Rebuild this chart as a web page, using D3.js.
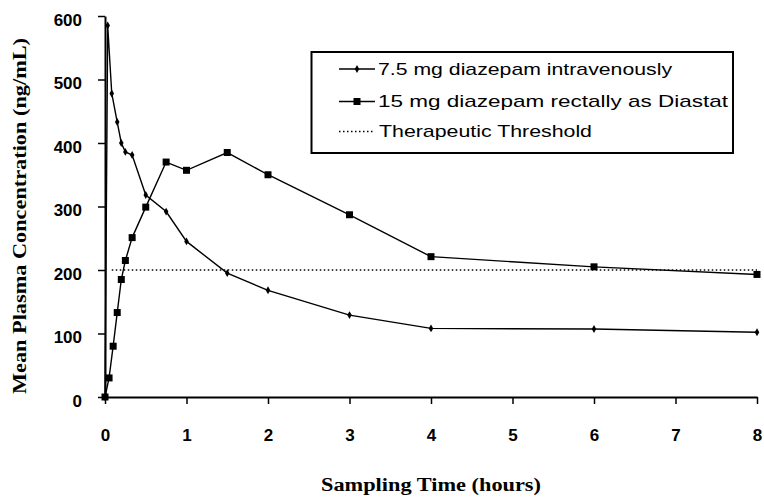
<!DOCTYPE html>
<html><head><meta charset="utf-8">
<script src="https://cdn.jsdelivr.net/npm/d3@7/dist/d3.min.js"></script>
<style>body{margin:0;background:#fff;} svg{display:block;}</style>
</head><body>
<script>
// ---- data ----
const ivTimes = [0, 0.033, 0.083, 0.15, 0.2, 0.25, 0.333, 0.5, 0.75, 1, 1.5, 2, 3, 4, 6, 8];
const ivValues = [0, 585, 478, 433, 400, 386, 381, 318, 292, 245, 195, 168, 129, 108, 107, 102];
const rectalTimes = [0, 0.05, 0.1, 0.15, 0.2, 0.25, 0.333, 0.5, 0.75, 1, 1.5, 2, 3, 4, 6, 8];
const rectalValues = [0, 30, 80, 133, 185, 215, 251, 299, 370, 357, 385, 350, 287, 221, 205, 193];
const thresholdTimes = [0.083, 8];
const thresholdValue = 200;
const xTicks = [0, 1, 2, 3, 4, 5, 6, 7, 8];
const yTicks = [0, 100, 200, 300, 400, 500, 600];
const seriesNames = ["7.5 mg diazepam intravenously", "15 mg diazepam rectally as Diastat", "Therapeutic Threshold"];
const xTitle = "Sampling Time (hours)";
const yTitle = "Mean Plasma Concentration (ng/mL)";

// ---- chart ----
const W = 764, H = 497;
const svg = d3.select("body").append("svg").attr("width", W).attr("height", H);
const x = d3.scaleLinear().domain([0, 8]).range([105, 757]);
const y = d3.scaleLinear().domain([0, 600]).range([397, 16]);

const tickFont = "'Liberation Sans', Arial, sans-serif";

// y axis
const gy = svg.append("g").attr("transform", `translate(${x(0)},0)`)
  .call(d3.axisLeft(y).tickValues(yTicks).tickSize(7).tickSizeOuter(0).tickPadding(16).tickFormat(d3.format("d")));
gy.select(".domain").attr("stroke", "#000").attr("stroke-width", 2);
gy.selectAll(".tick line").attr("stroke", "#000").attr("stroke-width", 1.5);
gy.selectAll(".tick text").attr("font-family", tickFont).attr("font-weight", "bold")
  .attr("font-size", 17).attr("fill", "#000").attr("dy", "0.55em");

// x axis
const gx = svg.append("g").attr("transform", `translate(0,${y(0)})`)
  .call(d3.axisBottom(x).tickValues(xTicks).tickSize(7).tickSizeOuter(0).tickPadding(25).tickFormat(d3.format("d")));
gx.select(".domain").attr("stroke", "#000").attr("stroke-width", 2);
gx.selectAll(".tick line").attr("stroke", "#000").attr("stroke-width", 1.5);
gx.selectAll(".tick text").attr("font-family", tickFont).attr("font-weight", "bold")
  .attr("font-size", 17).attr("fill", "#000");

// threshold
svg.append("path")
  .datum(thresholdTimes.map(t => [t, thresholdValue]))
  .attr("d", d3.line().x(d => x(d[0])).y(d => y(d[1])))
  .attr("fill", "none").attr("stroke", "#000").attr("stroke-width", 1.5)
  .attr("stroke-dasharray", "1.5,2.5");

const line = d3.line().x(d => x(d[0])).y(d => y(d[1]));
const ivData = ivTimes.map((t, i) => [t, ivValues[i]]);
const rectalData = rectalTimes.map((t, i) => [t, rectalValues[i]]);

svg.append("path").datum(ivData).attr("d", line)
  .attr("fill", "none").attr("stroke", "#000").attr("stroke-width", 1.4);
svg.append("path").datum(rectalData).attr("d", line)
  .attr("fill", "none").attr("stroke", "#000").attr("stroke-width", 1.4);

const diamond = d3.symbol().type(d3.symbolDiamond).size(18);
const square = d3.symbol().type(d3.symbolSquare).size(49);

svg.append("g").selectAll("path").data(ivData).join("path")
  .attr("transform", d => `translate(${x(d[0])},${y(d[1])})`)
  .attr("d", diamond).attr("fill", "#000");
svg.append("g").selectAll("path").data(rectalData).join("path")
  .attr("transform", d => `translate(${x(d[0])},${y(d[1])})`)
  .attr("d", square).attr("fill", "#000");

// axis titles
svg.append("text").attr("x", 431).attr("y", 491).attr("text-anchor", "middle")
  .attr("font-family", "'Liberation Serif', 'Times New Roman', serif").attr("font-weight", "bold")
  .attr("font-size", 18).attr("textLength", 220).attr("lengthAdjust", "spacingAndGlyphs").text(xTitle);
svg.append("text").attr("transform", "translate(26,216) rotate(-90)").attr("text-anchor", "middle")
  .attr("font-family", "'Liberation Serif', 'Times New Roman', serif").attr("font-weight", "bold")
  .attr("font-size", 18).attr("textLength", 356).attr("lengthAdjust", "spacingAndGlyphs").text(yTitle);

// legend
const lg = svg.append("g");
lg.append("rect").attr("x", 311.5).attr("y", 52).attr("width", 421.5).attr("height", 101)
  .attr("fill", "#fff").attr("stroke", "#000").attr("stroke-width", 2);
const rowsY = [69, 101.5, 131.5];
const textLens = [294, 350, 213];
seriesNames.forEach((name, i) => {
  const ry = rowsY[i];
  const l = lg.append("line").attr("x1", 339).attr("x2", 375).attr("y1", ry).attr("y2", ry)
    .attr("stroke", "#000").attr("stroke-width", 1.5);
  if (i === 2) l.attr("stroke-dasharray", "1.5,2.5");
  if (i === 0) lg.append("path").attr("transform", `translate(357,${ry})`).attr("d", diamond).attr("fill", "#000");
  if (i === 1) lg.append("path").attr("transform", `translate(357,${ry})`).attr("d", square).attr("fill", "#000");
  lg.append("text").attr("x", i === 2 ? 379 : 378).attr("y", ry).attr("dy", "0.35em")
    .attr("font-family", "'Liberation Sans', Arial, sans-serif").attr("font-size", 17)
    .attr("textLength", textLens[i]).attr("lengthAdjust", "spacingAndGlyphs").text(name);
});
</script>
</body></html>
